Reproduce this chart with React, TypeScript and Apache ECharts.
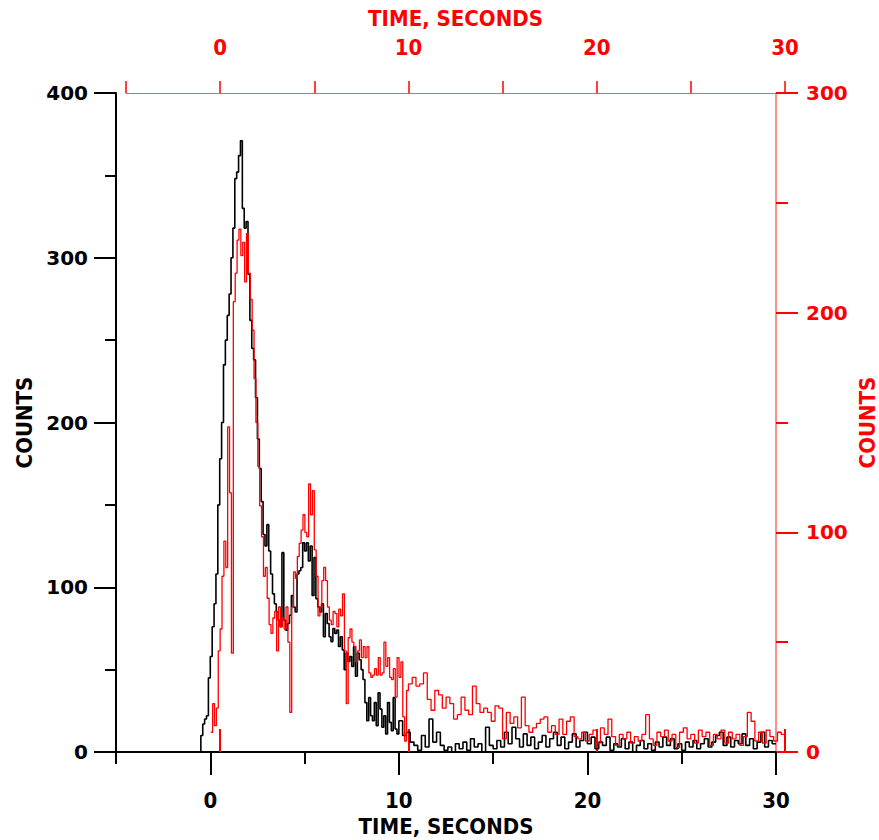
import React, { useEffect, useRef } from "react";
import * as echarts from "echarts";

// ---- tick labels ----
const X_MAJOR_TICKS = [0, 10, 20, 30];
const X_MIN = -5;
const X_MAX = 30;
const LEFT_Y_MAX = 400;
const RIGHT_Y_MAX = 300;

// ---- black histogram (bottom time axis, left counts axis) ----
const BLACK_FINE_START = -0.6; // seconds, 0.1 s bins
const BLACK_FINE = [
  0, 10, 17, 20, 22, 45, 58, 76, 90, 108,
  150, 178, 200, 235, 250, 265, 278, 300, 318, 348,
  352, 362, 371, 330, 318, 322, 290, 262, 245, 238,
  215, 190, 172, 152, 132, 125, 138, 122, 108, 96,
  90, 85, 80, 76, 121, 80, 74, 78, 83, 95,
  88, 85, 108, 110, 112, 127, 122, 127, 116, 125,
  95, 118, 93, 88, 85, 90, 70, 84, 78, 70,
  67, 75, 72, 74, 64, 70, 62, 50, 60, 55,
  58, 52, 64, 46, 60, 56, 50, 44, 30, 19,
  33, 22, 19, 30, 16, 36, 26, 15, 22, 11,
  30, 18, 13, 33, 14, 11,
];
const BLACK_COARSE_START = 10; // seconds, 0.2 s bins
const BLACK_COARSE = [
  19, 10, 12, 6, 4, 1, 10, 3, 20, 6,
  12, 4, 1, 3, 0, 5, 2, 6, 1, 8,
  3, 5, 0, 15, 4, 2, 7, 3, 12, 5,
  15, 8, 3, 11, 4, 9, 2, 6, 10, 3,
  8, 12, 4, 9, 2, 6, 11, 3, 7, 12,
  5, 9, 2, 6, 4, 9, 1, 5, 3, 8,
  2, 6, 0, 4, 7, 2, 5, 1, 6, 3,
  9, 4, 8, 2, 5, 1, 6, 3, 7, 2,
  5, 8, 3, 6, 10, 12, 4, 9, 3, 7,
  5, 11, 4, 8, 2, 6, 12, 3, 7, 5,
];

// ---- red histogram (top time axis, right counts axis) ----
const RED_FINE_START = -0.5; // seconds, 0.1 s bins
const RED_FINE = [
  9, 22, 12, 20, 46, 56, 80, 96, 84, 148,
  118, 45, 205, 218, 233, 238, 226, 232, 214, 236,
  218, 206, 192, 170, 150, 130, 112, 98, 80, 84,
  70, 58, 54, 61, 64, 46, 66, 57, 61, 56,
  66, 50, 18, 66, 82, 79, 89, 95, 101, 108,
  100, 98, 122, 108, 119, 92, 80, 62, 66, 78,
  84, 78, 66, 60, 58, 64, 63, 57, 65, 62,
  72, 46, 22, 52, 56, 50, 48, 41, 46, 51,
  43, 48, 43, 48, 36, 34, 35, 38, 35, 43,
  35, 36, 50, 39, 43, 34, 33, 38, 25, 43,
  34, 41, 16, 5, 28,
];
const RED_COARSE_START = 10; // seconds, 0.2 s bins
const RED_COARSE = [
  31, 34, 30, 31, 36, 24, 19, 28, 26, 20,
  25, 22, 15, 17, 25, 19, 17, 30, 22, 18,
  20, 18, 14, 21, 20, 6, 18, 13, 16, 11,
  25, 12, 9, 11, 13, 15, 16, 9, 12, 8,
  15, 8, 14, 16, 7, 6, 9, 5, 8, 10,
  4, 11, 8, 15, 7, 3, 8, 6, 9, 4,
  7, 5, 8, 17, 6, 3, 9, 7, 10, 5,
  8, 2, 9, 11, 6, 8, 4, 10, 7, 9,
  3, 8, 6, 10, 4, 9, 6, 8, 3, 7,
  18, 14, 5, 9, 4, 10, 7, 5, 9, 8,
];

const FINE_STEP = 0.1;
const COARSE_STEP = 0.2;

function buildSteps(
  fineStart: number,
  fine: number[],
  coarseStart: number,
  coarse: number[],
  end: number
): number[][] {
  const pts: number[][] = [];
  fine.forEach((c, i) => pts.push([+(fineStart + i * FINE_STEP).toFixed(3), c]));
  coarse.forEach((c, i) => pts.push([+(coarseStart + i * COARSE_STEP).toFixed(3), c]));
  pts.push([end, coarse[coarse.length - 1]]);
  return pts;
}

const RED = "#ff0000";
const BLACK = "#000000";
const NARROW = '"Liberation Sans Narrow", "Arial Narrow", "DejaVu Sans Condensed", sans-serif';
const WIDE = '"DejaVu Sans", "Liberation Sans", sans-serif';

export default function App() {
  const ref = useRef<HTMLDivElement>(null);

  useEffect(() => {
    if (!ref.current) return;
    const chart = echarts.init(ref.current, null, { renderer: "svg" });

    const blackData = buildSteps(BLACK_FINE_START, BLACK_FINE, BLACK_COARSE_START, BLACK_COARSE, X_MAX);
    const redData = buildSteps(RED_FINE_START, RED_FINE, RED_COARSE_START, RED_COARSE, X_MAX);

    const xLabelFmt = (v: number) => (X_MAJOR_TICKS.indexOf(v) >= 0 ? String(v) : "");

    const option: any = {
      animation: false,
      backgroundColor: "#ffffff",
      grid: [
        { left: 116, top: 93, width: 660, height: 659, outerBoundsMode: "none" },
        { left: 126, top: 93, width: 659, height: 659, outerBoundsMode: "none" },
      ],
      xAxis: [
        {
          type: "value",
          gridIndex: 0,
          position: "bottom",
          min: X_MIN,
          max: X_MAX,
          interval: 5,
          splitLine: { show: false },
          axisLine: { show: true, onZero: false, lineStyle: { color: BLACK, width: 2 } },
          axisTick: { show: true, length: 12, lineStyle: { color: BLACK, width: 2 } },
          axisLabel: {
            color: BLACK,
            fontFamily: NARROW,
            fontWeight: "bold",
            fontSize: 22,
            margin: 37,
            formatter: xLabelFmt,
          },
          name: "TIME, SECONDS",
          nameLocation: "middle",
          nameGap: 63,
          nameMoveOverlap: false,
          nameTextStyle: { color: BLACK, fontFamily: NARROW, fontWeight: "bold", fontSize: 22, lineHeight: 22 },
        },
        {
          type: "value",
          gridIndex: 0,
          position: "bottom",
          min: X_MIN,
          max: X_MAX,
          splitLine: { show: false },
          axisLine: { show: false },
          axisTick: { show: true, length: 23, customValues: X_MAJOR_TICKS, lineStyle: { color: BLACK, width: 2 } },
          axisLabel: { show: false },
        },
        {
          type: "value",
          gridIndex: 1,
          position: "top",
          min: X_MIN,
          max: X_MAX,
          interval: 5,
          splitLine: { show: false },
          axisLine: { show: true, onZero: false, lineStyle: { color: "#ff5a5a", width: 1 } },
          axisTick: { show: true, length: 12, lineStyle: { color: RED, width: 1.5 } },
          axisLabel: {
            color: RED,
            fontFamily: NARROW,
            fontWeight: "bold",
            fontSize: 22,
            margin: 35,
            formatter: xLabelFmt,
          },
          name: "TIME, SECONDS",
          nameLocation: "middle",
          nameGap: 64,
          nameMoveOverlap: false,
          nameTextStyle: { color: RED, fontFamily: NARROW, fontWeight: "bold", fontSize: 22, lineHeight: 22 },
        },
        {
          type: "value",
          gridIndex: 1,
          position: "top",
          min: X_MIN,
          max: X_MAX,
          splitLine: { show: false },
          axisLine: { show: false },
          axisTick: { show: true, length: 23, customValues: X_MAJOR_TICKS, lineStyle: { color: RED, width: 2 } },
          axisLabel: { show: false },
        },
      ],
      yAxis: [
        {
          type: "value",
          gridIndex: 0,
          position: "left",
          min: 0,
          max: LEFT_Y_MAX,
          interval: 100,
          splitLine: { show: false },
          axisLine: { show: true, onZero: false, lineStyle: { color: BLACK, width: 2 } },
          axisTick: { show: true, length: 22, lineStyle: { color: BLACK, width: 2 } },
          minorTick: { show: true, splitNumber: 2, length: 11, lineStyle: { color: BLACK, width: 2 } },
          minorSplitLine: { show: false },
          axisLabel: { color: BLACK, fontFamily: WIDE, fontWeight: "bold", fontSize: 20, margin: 28 },
          name: "COUNTS",
          nameLocation: "middle",
          nameRotate: 90,
          nameGap: 81,
          nameMoveOverlap: false,
          nameTextStyle: { color: BLACK, fontFamily: NARROW, fontWeight: "bold", fontSize: 22, lineHeight: 22 },
        },
        {
          type: "value",
          gridIndex: 0,
          position: "right",
          min: 0,
          max: RIGHT_Y_MAX,
          interval: 100,
          splitLine: { show: false },
          axisLine: { show: true, onZero: false, lineStyle: { color: "#ff6a6a", width: 1.5 } },
          axisTick: { show: true, length: 22, lineStyle: { color: RED, width: 2 } },
          minorTick: { show: true, splitNumber: 2, length: 12, lineStyle: { color: RED, width: 2 } },
          minorSplitLine: { show: false },
          axisLabel: { color: RED, fontFamily: WIDE, fontWeight: "bold", fontSize: 20, margin: 30 },
          name: "COUNTS",
          nameLocation: "middle",
          nameRotate: 90,
          nameGap: 80,
          nameMoveOverlap: false,
          nameTextStyle: { color: RED, fontFamily: NARROW, fontWeight: "bold", fontSize: 22, lineHeight: 22 },
        },
        {
          type: "value",
          gridIndex: 1,
          min: 0,
          max: RIGHT_Y_MAX,
          show: false,
        },
      ],
      series: [
        {
          type: "line",
          name: "black",
          xAxisIndex: 0,
          yAxisIndex: 0,
          step: "end",
          showSymbol: false,
          symbol: "none",
          data: blackData,
          lineStyle: { color: BLACK, width: 1.6 },
          z: 2,
        },
        {
          type: "line",
          name: "red",
          xAxisIndex: 2,
          yAxisIndex: 2,
          step: "end",
          showSymbol: false,
          symbol: "none",
          data: redData,
          lineStyle: { color: RED, width: 1.3 },
          z: 3,
        },
      ],
    };

    chart.setOption(option);
    return () => chart.dispose();
  }, []);

  return (
    <div
      ref={ref}
      style={{ position: "absolute", left: 0, top: 0, width: 879, height: 840, background: "#fff" }}
    />
  );
}
